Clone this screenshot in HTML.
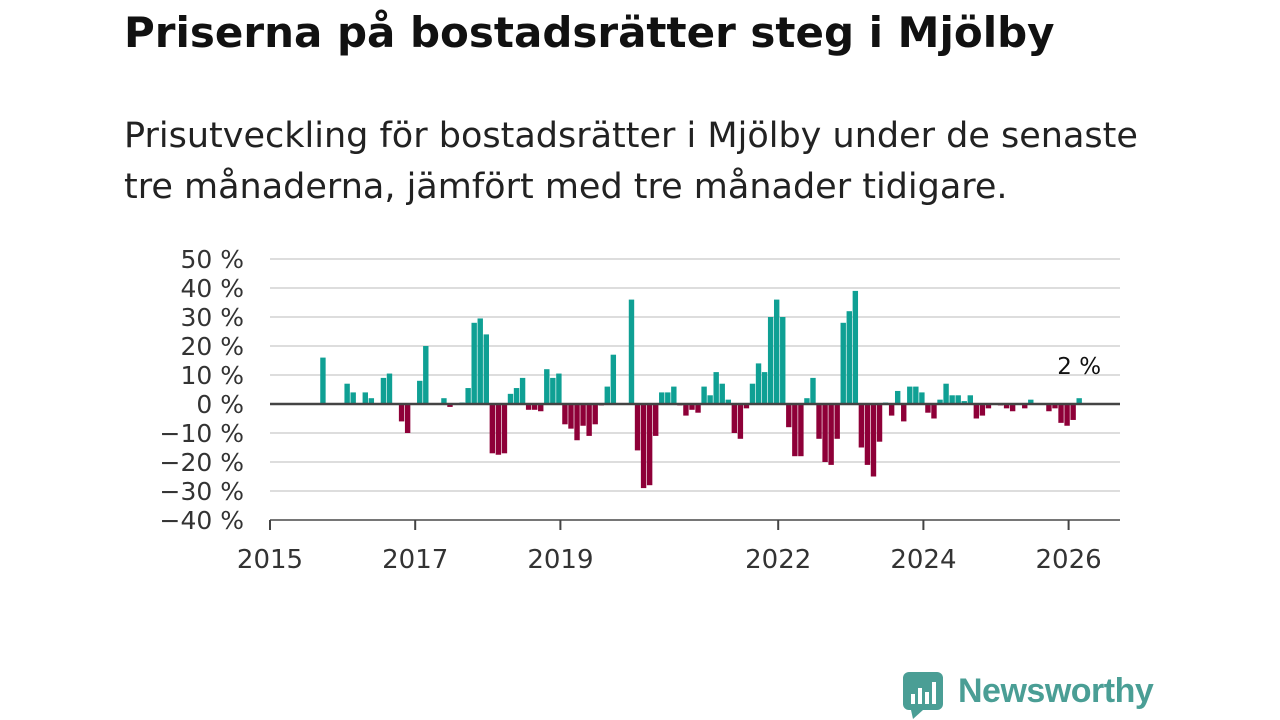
<!DOCTYPE html>
<html><head><meta charset="utf-8"><style>
body{margin:0;width:1280px;height:720px;background:#fff;font-family:"DejaVu Sans",sans-serif;overflow:hidden;position:relative}
h1{position:absolute;left:124px;top:8px;margin:0;font-size:42px;font-weight:bold;color:#111;white-space:nowrap}
p{position:absolute;left:124px;top:111px;margin:0;font-size:35px;line-height:51px;color:#222;width:1150px;white-space:nowrap}
</style></head><body>
<h1>Priserna på bostadsrätter steg i Mjölby</h1>
<p>Prisutveckling för bostadsrätter i Mjölby under de senaste<br>tre månaderna, jämfört med tre månader tidigare.</p>
<svg id="chart" width="1280" height="720" style="position:absolute;left:0;top:0"></svg>
<script>
const startMonth = 8; // months since Jan 2015
const values = [16,0,0,0,7,4,0,4,2,0,9,10.5,0,-6,-10,0,8,20,0,0,2,-1,0,0.5,5.5,28,29.5,24,-17,-17.5,-17,3.5,5.5,9,-2,-2,-2.5,12,9,10.5,-7,-8.5,-12.5,-7.5,-11,-7,-0.5,6,17,0,0,36,-16,-29,-28,-11,4,4,6,-0.5,-4,-2,-3,6,3,11,7,1.5,-10,-12,-1.5,7,14,11,30,36,30,-8,-18,-18,2,9,-12,-20,-21,-12,28,32,39,-15,-21,-25,-13,0.5,-4,4.5,-6,6,6,4,-3,-5,1.5,7,3,3,1,3,-5,-4,-1.5,0,-0.5,-1.5,-2.5,0,-1.5,1.5,0,0,-2.5,-1.5,-6.5,-7.5,-5.5,2];
const yTicks = [50,40,30,20,10,0,-10,-20,-30,-40];
const xTickYears = [2015,2017,2019,2022,2024,2026];
const lastLabel = "2 %";
const NS="http://www.w3.org/2000/svg", svg=document.getElementById('chart');
const FF='DejaVu Sans, sans-serif';
const y = v => 404 - v*2.9;
const x = m => 270 + m*6.05;
function mk(t,a){const e=document.createElementNS(NS,t);for(const k in a)e.setAttribute(k,a[k]);svg.appendChild(e);return e;}
yTicks.forEach(v=>{
  const g=mk('line',{x1:270,x2:1120,y1:y(v),y2:y(v),stroke:'#ddd','stroke-width':2});
  
  
  const t=mk('text',{x:244,y:y(v)+9,'text-anchor':'end','font-size':25,fill:'#333','font-family':FF});
  t.textContent=(v<0?'\u2212'+(-v):v)+' %';
  
  
});
const ax=mk('line',{x1:270,x2:1120,y1:520,y2:520,stroke:'#555','stroke-width':1.5});


xTickYears.forEach(yr=>{
  const m=(yr-2015)*12, xx=x(m);
  const tk=mk('line',{x1:xx,x2:xx,y1:520,y2:530,stroke:'#444','stroke-width':2});
  
  
  const t=mk('text',{x:xx,y:568,'text-anchor':'middle','font-size':26,fill:'#333','font-family':FF});
  t.textContent=yr;
  
  
});
values.forEach((v,i)=>{
  if(v===0)return;
  const cx=x(startMonth+i+0.75);
  const r=mk('rect',{x:cx-2.7,width:5.4,y:Math.min(y(v),y(0)),height:Math.abs(y(v)-y(0)),fill:v>0?'#0fa094':'#8e0038'});
  
  
});
const zl=mk('line',{x1:270,x2:1120,y1:404,y2:404,stroke:'#444','stroke-width':2.5});


const lv=values[values.length-1], lx=x(startMonth+values.length-1+0.75);
const lt=mk('text',{x:lx,y:y(lv)-24,'text-anchor':'middle','font-size':23,fill:'#111','font-family':FF});
lt.textContent=lastLabel;


</script>
<div style="position:absolute;left:903px;top:672px;width:260px;height:48px">
<svg width="42" height="48" style="position:absolute;left:0;top:0"><rect x="0" y="0" width="40" height="38" rx="6" fill="#4a9e95"/><polygon points="8,38 20,38 10,47" fill="#4a9e95"/><rect x="8" y="22" width="4" height="10" fill="#fff"/><rect x="15" y="16" width="4" height="16" fill="#fff"/><rect x="22" y="20" width="4" height="12" fill="#fff"/><rect x="29" y="10" width="4" height="22" fill="#fff"/></svg>
<span style="position:absolute;left:55px;top:0px;font-family:'Liberation Sans',sans-serif;font-size:34px;font-weight:bold;color:#4a9e95;letter-spacing:-0.5px">Newsworthy</span>
</div>
</body></html>
